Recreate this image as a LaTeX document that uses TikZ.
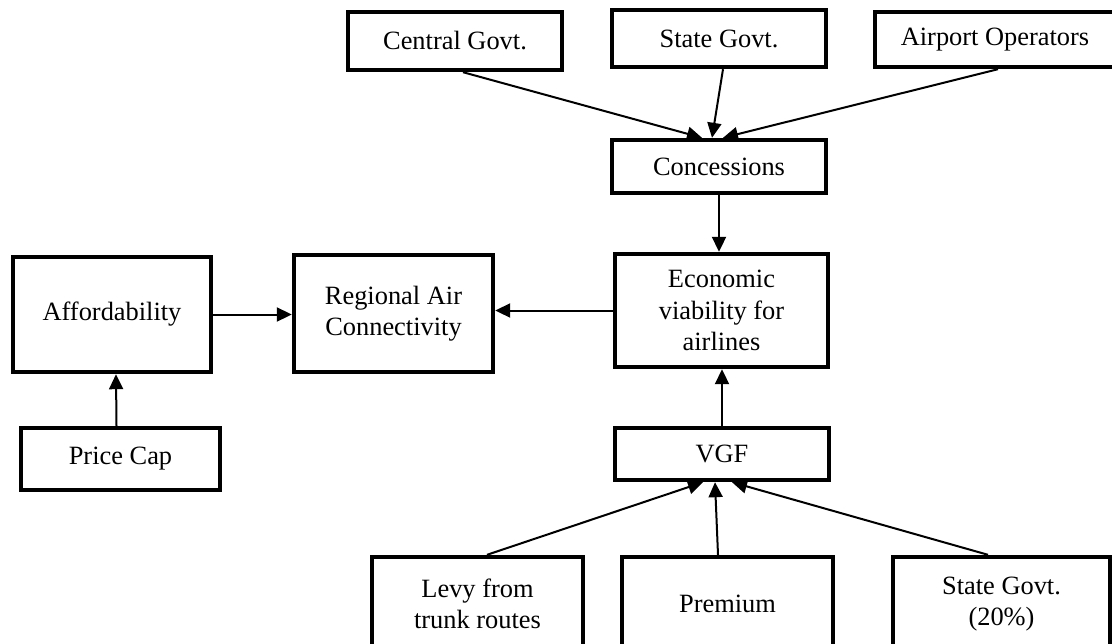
\documentclass[tikz,border=0pt]{standalone}
\usepackage{fontspec}
\setmainfont{Liberation Serif}
\usetikzlibrary{positioning}
\usetikzlibrary{arrows.meta}
\usetikzlibrary{calc}
\tikzset{
  bloque/.style={
    rectangle, draw=black, line width=2.2pt, fill=white,
    align=center, inner sep=2pt,
    font=\fontsize{13.2}{15.8}\selectfont
  },
  flecha/.style={-{Triangle[length=7.5pt,width=7pt]}, line width=1pt, draw=black}
}
\begin{document}
\begin{tikzpicture}[x=0.5pt, y=-0.5pt]
  \useasboundingbox (0,0) rectangle (1112,643);
  \clip (0,0) rectangle (1112,643);

  \node[bloque, minimum width=107pt, minimum height=29pt] (central) at (455,41)
    {Central Govt.};
  \node[bloque, minimum width=107pt, minimum height=28.5pt] (stategov) at (719,38.5)
    {State Govt.};
  \node[bloque, minimum width=120pt, minimum height=27.5pt] (airport) at (995,39.5)
    {Airport Operators};
  \node[bloque, minimum width=107pt, minimum height=26.5pt] (conc) at (719,166.5)
    {Concessions};
  \node[bloque, minimum width=99pt, minimum height=57.5pt] (afford) at (112,314.5)
    {Affordability};
  \node[bloque, minimum width=99.5pt, minimum height=58.5pt] (rac) at (393.5,313.5)
    {Regional Air\\Connectivity};
  \node[bloque, minimum width=106.5pt, minimum height=56.5pt] (econ) at (721.5,310.5)
    {Economic\\viability for\\airlines};
  \node[bloque, minimum width=99.5pt, minimum height=31pt] (pcap) at (120.5,459)
    {Price Cap};
  \node[bloque, minimum width=107pt, minimum height=26pt] (vgf) at (722,454)
    {VGF};
  \node[bloque, minimum width=105.5pt, minimum height=47pt] (levy) at (477.5,604)
    {Levy from\\trunk routes};
  \node[bloque, minimum width=105.5pt, minimum height=47pt] (prem) at (727.5,604)
    {Premium};
  \node[bloque, minimum width=108.5pt, minimum height=47pt] (state20) at (1001.5,604)
    {State Govt.\\(20\%)};

  \draw[flecha] ($(central.south)+(8,0)$) -- ($(conc.north)+(-17,0)$);
  \draw[flecha] ($(stategov.south)+(4,0)$) -- ($(conc.north)+(-7,0)$);
  \draw[flecha] ($(airport.south)+(3,0)$) -- ($(conc.north)+(4,0)$);
  \draw[flecha] (conc.south) -- (conc.south |- econ.north);
  \draw[flecha] (econ.west) -- (econ.west -| rac.east);
  \draw[flecha] (afford.east) -- (afford.east -| rac.west);
  \draw[flecha] ($(pcap.north)+(-4,0)$) -- ($(afford.south)+(4,0)$);
  \draw[flecha] (vgf.north) -- (vgf.north |- econ.south);
  \draw[flecha] ($(levy.north)+(9.5,0)$) -- ($(vgf.south)+(-19,0)$);
  \draw[flecha] ($(prem.north)+(-9.5,0)$) -- ($(vgf.south)+(-7,0)$);
  \draw[flecha] ($(state20.north)+(-13.5,0)$) -- ($(vgf.south)+(10,0)$);
\end{tikzpicture}
\end{document}
